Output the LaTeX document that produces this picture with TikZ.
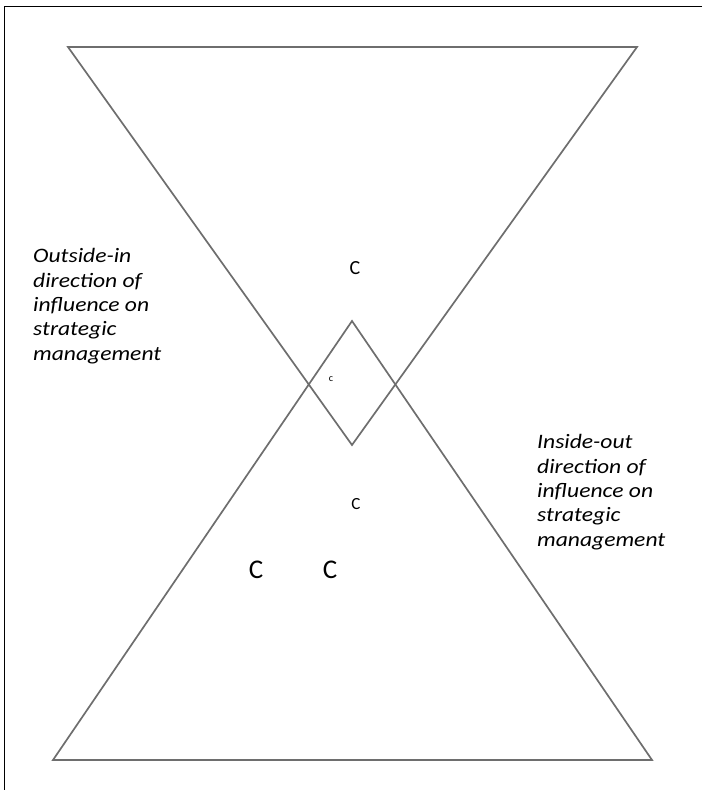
\documentclass[tikz,border=0pt]{standalone}
\usepackage{fontspec}
\newfontfamily\carl{Carlito}
\newfontfamily\carlwide[FakeStretch=1.15]{Carlito}
\begin{document}
\begin{tikzpicture}[x=1pt,y=-1pt,
  frameline/.style={draw=black,line width=1pt},
  triline/.style={draw=black!57,line width=1.7pt,line join=miter},
  sidetext/.style={anchor=base west,align=left,inner sep=0pt,
    font=\carlwide\itshape\fontsize{20.5}{24.3}\selectfont},
  mark/.style={inner sep=0pt,font=\carl\fontsize{#1}{#1}\selectfont}]
\useasboundingbox (0,0) rectangle (702,790);
% corner frame along the top and left edges
\coordinate (ftl) at (4,6);
\coordinate (ftr) at (702,6);
\coordinate (fbl) at (4,790);
\draw[frameline] (ftr) -- (ftl) -- (fbl);
% inverted triangle
\coordinate (ul) at (68,47);
\coordinate (ur) at (637,47);
\coordinate (ua) at (352,445);
% upright triangle
\coordinate (ll) at (53,760);
\coordinate (lr) at (652,760);
\coordinate (la) at (352,321);
\draw[triline] (ul) -- (ur) -- (ua) -- cycle;
\draw[triline] (ll) -- (lr) -- (la) -- cycle;
% letter marks
\node[mark=20] (c1) at (355,268) {C};
\node[mark=10] (c2) at (331,379) {c};
\node[mark=17] (c3) at (356,504) {C};
\node[mark=27] (c4) at (256,570) {C};
\node[mark=27] (c5) at (330,570) {C};
% side captions (anchored at the baseline of their last line)
\node[sidetext] (outin) at (33,360) {Outside-in\\direction of\\influence on\\strategic\\management};
\node[sidetext] (inout) at (537,546) {Inside-out\\direction of\\influence on\\strategic\\management};
\end{tikzpicture}
\end{document}
